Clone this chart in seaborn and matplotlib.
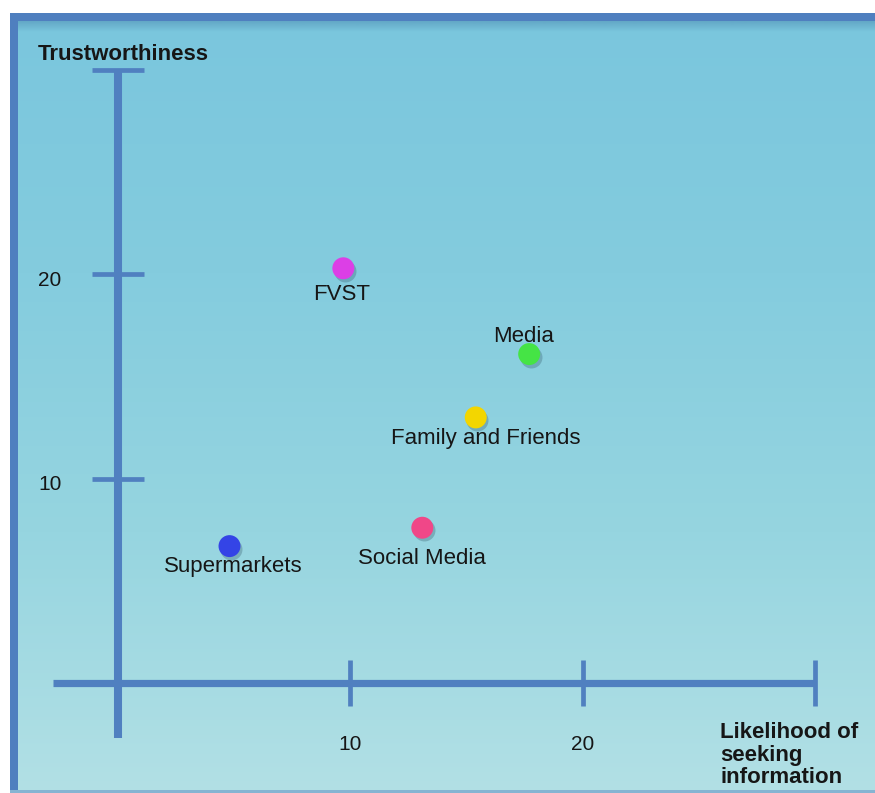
import numpy as np
import pandas as pd
import matplotlib
matplotlib.use("Agg")
import matplotlib.pyplot as plt
import seaborn as sns
from matplotlib.patches import Rectangle

# Information sources rated on two scales
sources = ["FVST", "Media", "Family and Friends", "Social Media", "Supermarkets"]
likelihood = [9.7, 17.7, 15.4, 13.1, 4.8]
trustworthiness = [20.3, 16.1, 13.0, 7.6, 6.7]
dot_colors = ["#dc3fe6", "#45e445", "#f3d600", "#f04788", "#3444e6"]

axis_ticks = [10, 20, 30]
tick_labels = ["10", "20"]
x_title = "Likelihood of\nseeking\ninformation"
y_title = "Trustworthiness"

df = pd.DataFrame({"source": sources, "likelihood": likelihood,
                   "trust": trustworthiness})

sns.set_theme(style="white")
plt.rcParams["font.family"] = ["Liberation Sans", "DejaVu Sans"]

W, H = 875, 793
fig = plt.figure(figsize=(W / 100, H / 100), dpi=100)
fig.patch.set_facecolor("white")
ax = fig.add_axes([0, 0, 1, 1])
ax.set_axis_off()

# pixel geometry of the drawing: origin and scale
ox, oy = 118, 683
sx, sy = 23.23, 20.43
xlim = (-ox / sx, (W - ox) / sx)
ylim = (-(H - oy) / sy, oy / sy)


def fx(px):
    return px / W


def fy(py):
    return 1 - py / H


# gradient panel background
stops = np.array([[122, 198, 221], [132, 204, 222], [150, 213, 224], [178, 224, 229]]) / 255
n = 256
t = np.linspace(0, 1, n)
pos = np.linspace(0, 1, len(stops))
grad = np.stack([np.interp(t, pos, stops[:, c]) for c in range(3)], axis=1)
grad = grad[:, None, :]
ax.imshow(grad, extent=[fx(10), 1, fy(792), fy(13)], transform=ax.transAxes,
          aspect="auto", zorder=0, interpolation="bilinear")

# frame: blue bands on top and left, soft shade under the top band
frame_color = "#4f7fbf"
ax.add_patch(Rectangle((fx(10), fy(21)), 1 - fx(10), fy(13) - fy(21),
                       transform=ax.transAxes, color=frame_color, zorder=1, lw=0))
ax.add_patch(Rectangle((fx(10), fy(792)), fx(18) - fx(10), fy(13) - fy(792),
                       transform=ax.transAxes, color=frame_color, zorder=1, lw=0))
shade = np.linspace(0.45, 0, 32)[:, None, None]
shade_rgba = np.concatenate([np.tile(np.array([70, 130, 170]) / 255, (32, 1, 1)), shade], axis=2)
ax.imshow(shade_rgba, extent=[fx(18), 1, fy(32), fy(21)], transform=ax.transAxes,
          aspect="auto", zorder=1, interpolation="bilinear")
ax.add_patch(Rectangle((fx(10), fy(793)), 1 - fx(10), fy(790) - fy(793),
                       transform=ax.transAxes, color="#86b4d2", zorder=1, lw=0))

# axes drawn as thick blue strokes with cross ticks
axis_color = "#5080c0"
axis_max = axis_ticks[-1]
ax.plot([-2.8, axis_max], [0, 0], color=axis_color, lw=5.2,
        solid_capstyle="butt", zorder=2)
ax.plot([0, 0], [-2.7, axis_max], color=axis_color, lw=5.8,
        solid_capstyle="butt", zorder=2)
for v in axis_ticks:
    ax.plot([v, v], [-1.12, 1.12], color=axis_color, lw=3.4,
            solid_capstyle="butt", zorder=2)
    ax.plot([-1.1, 1.1], [v, v], color=axis_color, lw=3.4,
            solid_capstyle="butt", zorder=2)

txt = "#161616"
fs = 16
for lab in tick_labels:
    v = float(lab)
    ax.annotate(lab, (0, v), xytext=(-49, -4.5), textcoords="offset points",
                ha="center", va="center", fontsize=15, color=txt, zorder=5)
    ax.annotate(lab, (v, 0), xytext=(0, -44), textcoords="offset points",
                ha="center", va="center", fontsize=15, color=txt, zorder=5)

# soft drop shadows, then the dots
ax.scatter(df["likelihood"], df["trust"], s=250, color="#2a4a5a", alpha=0.28,
           linewidths=0, zorder=3,
           transform=ax.transData + matplotlib.transforms.ScaledTranslation(1.5 / 100, -2.5 / 100, fig.dpi_scale_trans))
sns.scatterplot(data=df, x="likelihood", y="trust", hue="source",
                palette=dict(zip(sources, dot_colors)), s=250, linewidth=0,
                legend=False, ax=ax, zorder=4)

# label offsets in points relative to each dot
offsets = {"FVST": (-1, -19), "Media": (-4, 13), "Family and Friends": (7, -15),
           "Social Media": (0, -22), "Supermarkets": (3, -14.5)}
for s, x, y in zip(sources, likelihood, trustworthiness):
    dx, dy = offsets[s]
    ax.annotate(s, (x, y), xytext=(dx, dy), textcoords="offset points",
                ha="center", va="center", fontsize=fs, color=txt, zorder=5)

ax.text(fx(38), fy(54), y_title, transform=ax.transAxes, ha="left", va="center",
        fontsize=fs, fontweight="bold", color=txt, zorder=5)
ax.text(fx(720), fy(755), x_title, transform=ax.transAxes, ha="left", va="center",
        fontsize=fs, fontweight="bold", color=txt, linespacing=1.12, zorder=5)

ax.set_xlim(*xlim)
ax.set_ylim(*ylim)
ax.set_xlabel("")
ax.set_ylabel("")
ax.set_axis_off()

fig.savefig("out.png", dpi=100)
